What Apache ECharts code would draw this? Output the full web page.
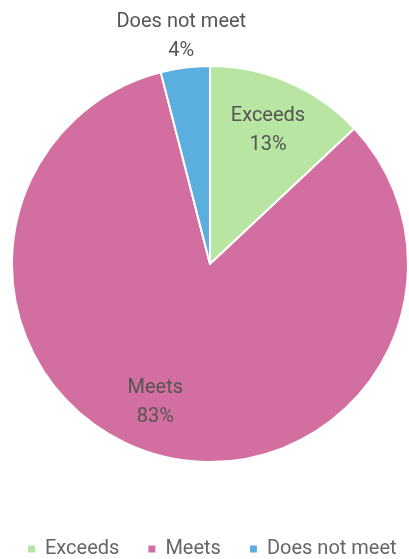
<!DOCTYPE html>
<html>
<head>
<meta charset="utf-8">
<script src="https://cdn.jsdelivr.net/npm/echarts@6/dist/echarts.min.js"></script>
<style>
  html, body { margin: 0; padding: 0; background: #fff; }
  #main { width: 409px; height: 559px; }
</style>
</head>
<body>
<div id="main"></div>
<script>
// 数据
var categories = ['Exceeds', 'Meets', 'Does not meet'];
var values = [13, 83, 4];
var colors = ['#b8e5a1', '#d36ea0', '#5aafde'];
// 标签放在饼外面的类别
var outsideLabels = ['Does not meet'];

function buildData(showFn) {
    let data = [];
    for (let i = 0; i < categories.length; i++) {
        let item = {
            name: categories[i],
            value: values[i],
            label: { show: showFn(categories[i]) }
        };
        // Meets 的标签稍微往左挪一点
        if (categories[i] == 'Meets') {
            item.label.offset = [-14, -2];
        }
        data.push(item);
    }
    return data;
}

var labelStyle = {
    position: 'inside',
    formatter: '{b}\n{d}%',
    fontFamily: 'Roboto',
    fontSize: 20,
    lineHeight: 29,
    color: '#555'
};

var chart = echarts.init(document.getElementById('main'));
var option = {
    animation: false,
    color: colors,
    legend: {
        data: categories,
        top: 534,
        left: 21,
        icon: 'rect',
        itemWidth: 9,
        itemHeight: 9,
        itemGap: 27,
        selectedMode: false,
        textStyle: {
            fontFamily: 'Roboto',
            fontSize: 20,
            color: '#666',
            padding: [0, 0, 0, 4]
        }
    },
    series: [
        {
            // 主饼图
            type: 'pie',
            center: [210, 264],
            radius: [0, 198],
            startAngle: 90,
            itemStyle: { borderColor: '#fff', borderWidth: 2 },
            label: { show: false },
            labelLine: { show: false },
            emphasis: { disabled: true },
            data: buildData(function () { return false; })
        },
        {
            // 内部标签（透明环）
            type: 'pie',
            center: [210, 264],
            radius: [88, 198],
            startAngle: 90,
            silent: true,
            itemStyle: { color: 'rgba(0,0,0,0)' },
            label: labelStyle,
            labelLine: { show: false },
            emphasis: { disabled: true },
            data: buildData(function (n) { return outsideLabels.indexOf(n) < 0; })
        },
        {
            // 外部标签（透明环）
            type: 'pie',
            center: [210, 264],
            radius: [198, 254],
            startAngle: 90,
            silent: true,
            itemStyle: { color: 'rgba(0,0,0,0)' },
            label: labelStyle,
            labelLine: { show: false },
            emphasis: { disabled: true },
            data: buildData(function (n) { return outsideLabels.indexOf(n) >= 0; })
        }
    ]
};
chart.setOption(option);
</script>
</body>
</html>
